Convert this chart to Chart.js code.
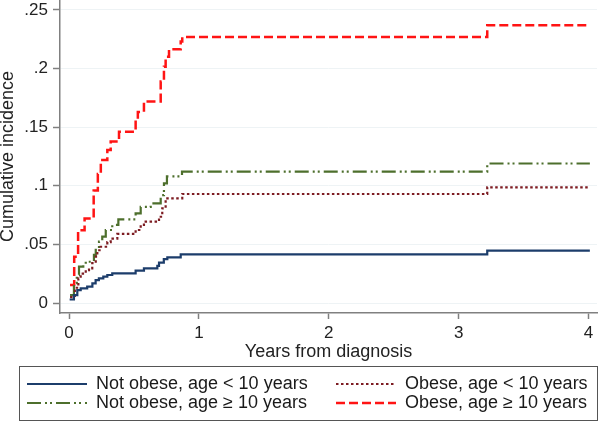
<!DOCTYPE html>
<html>
<head>
<meta charset="utf-8">
<script src="https://cdn.jsdelivr.net/npm/chart.js@4.4.1/dist/chart.umd.min.js"></script>
<style>
  html, body { margin: 0; padding: 0; background: #fff; }
  #wrap { width: 600px; height: 423px; }
</style>
</head>
<body>
<div id="wrap"><canvas id="incidenceChart" width="600" height="423"></canvas></div>
<script>
  // data (years, cumulative incidence)
  const notObeseYoungT = [0.005, 0.038, 0.064, 0.09, 0.14, 0.18, 0.205, 0.23, 0.264, 0.295, 0.333, 0.513, 0.577, 0.68, 0.693, 0.73, 0.757, 0.86, 3.22, 4.01];
  const notObeseYoungV = [0.003, 0.0068, 0.011, 0.0125, 0.0139, 0.0168, 0.0196, 0.021, 0.0225, 0.0239, 0.0253, 0.0276, 0.0296, 0.0316, 0.0344, 0.0375, 0.039, 0.0415, 0.0446, 0.0446];

  const obeseYoungT = [0.008, 0.045, 0.072, 0.09, 0.129, 0.154, 0.179, 0.206, 0.218, 0.244, 0.295, 0.321, 0.372, 0.513, 0.552, 0.577, 0.693, 0.718, 0.744, 0.872, 3.22, 4.01];
  const obeseYoungV = [0.005, 0.013, 0.021, 0.025, 0.028, 0.0296, 0.034, 0.0395, 0.045, 0.048, 0.052, 0.055, 0.0589, 0.0623, 0.0666, 0.0694, 0.0736, 0.0808, 0.0893, 0.093, 0.0987, 0.0987];

  const notObeseOldT = [0.008, 0.038, 0.06, 0.077, 0.11, 0.129, 0.192, 0.206, 0.231, 0.256, 0.283, 0.333, 0.38, 0.513, 0.552, 0.629, 0.706, 0.731, 0.754, 0.87, 3.22, 4.01];
  const notObeseOldV = [0.0068, 0.017, 0.024, 0.031, 0.033, 0.0352, 0.041, 0.0467, 0.0523, 0.0566, 0.0623, 0.0666, 0.0714, 0.0765, 0.082, 0.085, 0.092, 0.102, 0.108, 0.112, 0.119, 0.119];

  const obeseOldT = [0.008, 0.04, 0.07, 0.12, 0.19, 0.222, 0.245, 0.295, 0.321, 0.385, 0.513, 0.53, 0.577, 0.706, 0.731, 0.744, 0.77, 0.86, 0.872, 3.22, 4.01];
  const obeseOldV = [0.0154, 0.0395, 0.062, 0.072, 0.096, 0.11, 0.122, 0.1305, 0.1377, 0.146, 0.156, 0.163, 0.172, 0.189, 0.2016, 0.21, 0.2165, 0.223, 0.227, 0.237, 0.237];

  const seriesNames = ['Not obese, age < 10 years', 'Obese, age < 10 years', 'Not obese, age \u2265 10 years', 'Obese, age \u2265 10 years'];
  const xTickValues = [0, 1, 2, 3, 4];
  const yTickValues = [0, 0.05, 0.1, 0.15, 0.2, 0.25];
  const yTickLabels = ['0', '.05', '.1', '.15', '.2', '.25'];

  const FONT = 'Liberation Sans, Arial, sans-serif';

  function toPoints(ts, vs) {
    return ts.map(function (t, i) { return { x: t, y: vs[i] }; });
  }

  // legend in a box, 2 columns x 2 rows
  const boxLegend = {
    id: 'boxLegend',
    afterDraw(chart) {
      const ctx = chart.ctx;
      ctx.save();
      ctx.strokeStyle = '#555';
      ctx.lineWidth = 1;
      ctx.strokeRect(19.5, 366.5, 578, 54);

      const cols = [27, 336];
      const rows = [384, 403];
      const lineLen = 60;
      chart.data.datasets.forEach(function (ds, i) {
        const x = cols[i % 2];
        const y = rows[Math.floor(i / 2)];
        ctx.beginPath();
        ctx.setLineDash(ds.borderDash || []);
        ctx.strokeStyle = ds.borderColor;
        ctx.lineWidth = ds.borderWidth;
        ctx.moveTo(x, y);
        ctx.lineTo(x + lineLen, y);
        ctx.stroke();
        ctx.setLineDash([]);
        ctx.fillStyle = '#1a1a1a';
        ctx.font = '18px ' + FONT;
        ctx.textBaseline = 'middle';
        ctx.fillText(ds.label, x + lineLen + 9, y);
      });
      ctx.restore();
    }
  };

  const ctx = document.getElementById('incidenceChart').getContext('2d');

  const chart = new Chart(ctx, {
    type: 'line',
    data: {
      datasets: [{
        label: seriesNames[0],
        data: toPoints(notObeseYoungT, notObeseYoungV),
        borderColor: '#1c3d6b',
        borderWidth: 2.2,
      },
      {
        label: seriesNames[1],
        data: toPoints(obeseYoungT, obeseYoungV),
        borderColor: '#7d1c22',
        borderWidth: 2.2,
        borderDash: [2.5, 2.5],
      },
      {
        label: seriesNames[2],
        data: toPoints(notObeseOldT, notObeseOldV),
        borderColor: '#4d6f2c',
        borderWidth: 2.2,
        borderDash: [14, 4, 2, 3, 2, 4],
      },
      {
        label: seriesNames[3],
        data: toPoints(obeseOldT, obeseOldV),
        borderColor: '#ff1414',
        borderWidth: 2.5,
        borderDash: [9, 4],
      }]
    },
    options: {
      responsive: false,
      animation: false,
      elements: {
        point: { radius: 0 },
        line: { stepped: true, fill: false }
      },
      layout: { padding: { left: 0, right: 3, top: 0, bottom: 60 } },
      plugins: {
        legend: { display: false },
        tooltip: { enabled: false }
      },
      scales: {
        x: {
          type: 'linear',
          min: -0.0693,
          max: 4.065,
          afterFit: function (scale) {
            scale.height = 50;
            scale.paddingLeft = 0;
            scale.paddingRight = 0;
          },
          afterBuildTicks: function (scale) {
            scale.ticks = xTickValues.map(function (v) { return { value: v }; });
          },
          grid: { drawOnChartArea: false, tickColor: '#808080', tickLength: 6, tickWidth: 1.5 },
          border: { color: '#808080', width: 1.5 },
          ticks: { color: '#222', font: { family: FONT, size: 17 }, padding: 4, maxRotation: 0 },
          title: { display: true, text: 'Years from diagnosis', color: '#222', font: { family: FONT, size: 18 }, padding: 0 }
        },
        y: {
          type: 'linear',
          min: -0.00853,
          max: 0.2585,
          afterFit: function (scale) {
            scale.width = 60;
            scale.paddingTop = 0;
            scale.paddingBottom = 0;
          },
          afterBuildTicks: function (scale) {
            scale.ticks = yTickValues.map(function (v) { return { value: v }; });
          },
          grid: { color: '#eef3f5', tickColor: '#808080', tickLength: 7, tickWidth: 1.5 },
          border: { color: '#808080', width: 1.5 },
          ticks: {
            color: '#222',
            font: { family: FONT, size: 17 },
            padding: 5,
            callback: function (value) {
              const i = yTickValues.indexOf(value);
              return i >= 0 ? yTickLabels[i] : '';
            }
          },
          title: { display: true, text: 'Cumulative incidence', color: '#222', font: { family: FONT, size: 18, lineHeight: 0.9 }, padding: 0 }
        }
      }
    },
    plugins: [boxLegend]
  });
</script>
</body>
</html>
